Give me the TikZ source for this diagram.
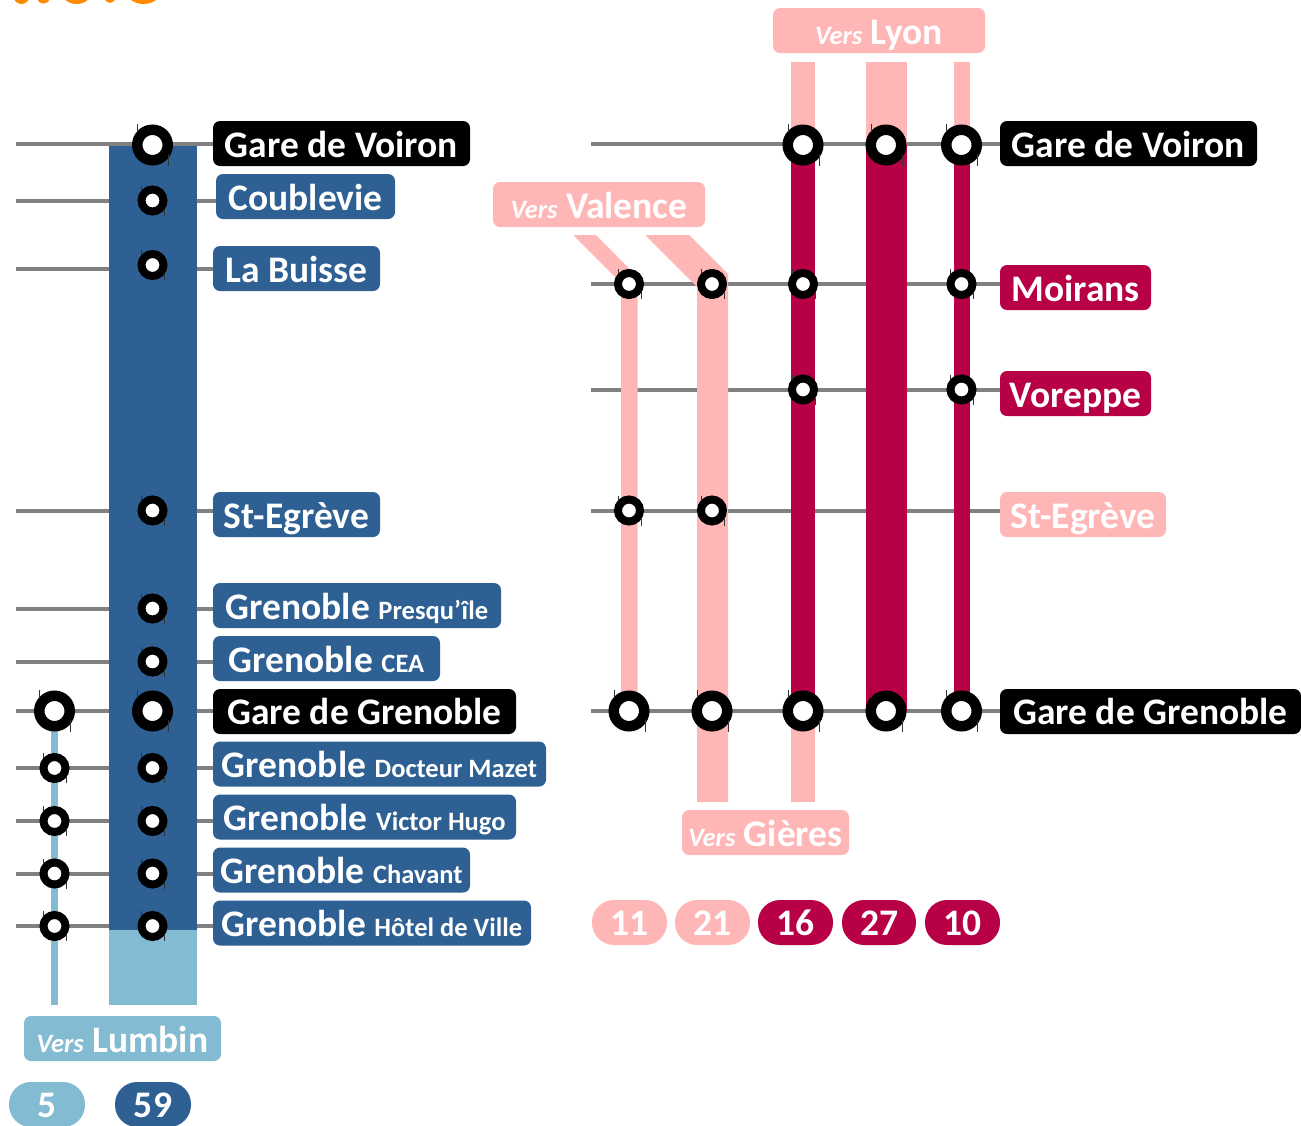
\documentclass[tikz,border=0pt]{standalone}
\usepackage{fontspec}
\setmainfont{Carlito}
\definecolor{cblue}{HTML}{2E6093}
\definecolor{clight}{HTML}{82BBD2}
\definecolor{cpink}{HTML}{FFB6B6}
\definecolor{cmag}{HTML}{B70045}
\definecolor{cgray}{HTML}{808080}
\definecolor{corange}{HTML}{FF8C00}
\newcommand{\lab}[8][36]{%
  \pgfmathsetmacro\labw{#5-#3}\pgfmathsetmacro\labh{#6-#4}\pgfmathsetmacro\labd{\labh-#1}%
  \node[labelbox,fill=#7,minimum width=\labw pt,text height=#1pt,text depth=\labd pt] (#2) at (#3,#4) {#8};}
\newcommand{\pill}[5]{%
  \pgfmathsetmacro\labw{#4-#3}%
  \node[labelbox,rounded corners=22pt,fill=#5,minimum width=\labw pt,text height=35pt,text depth=10pt] (p#1) at (#3,#2) {#1};}
\newcommand{\vers}{{\fontsize{26.5}{26.5}\selectfont\itshape Vers}}
\newcommand{\sm}[1]{{\fontsize{26.5}{26.5}\selectfont #1}}
\newcommand{\bigst}[3]{\node[bigstation] (#1) at (#2,#3) {};
  \draw[tickline] (#2-15,#3-21) -- (#2-15,#3-13) (#2+16,#3+9) -- (#2+16,#3+21);}
\newcommand{\smst}[3]{\node[smstation] (#1) at (#2,#3) {};
  \draw[tickline] (#2-11,#3-15) -- (#2-11,#3-10) (#2+12,#3+8) -- (#2+12,#3+15);}
\tikzset{
  labelbox/.style={anchor=north west,rectangle,rounded corners=7pt,inner xsep=0pt,inner ysep=0pt,outer sep=0pt,text=white,font=\fontsize{37.5}{37.5}\selectfont\bfseries},
  bigstation/.style={circle,draw=black,fill=white,line width=10.5pt,minimum size=30.5pt,inner sep=0pt},
  smstation/.style={circle,draw=black,fill=white,line width=8pt,minimum size=22pt,inner sep=0pt},
  tickline/.style={draw=black!80,line width=0.8pt},
  hline/.style={draw=cgray,line width=4pt},
}
\begin{document}
\begin{tikzpicture}[x=1pt,y=-1pt]
\useasboundingbox (0,0) rectangle (1301,1125);
% clipped remains of the title
\begin{scope}
\clip (0,0) rectangle (1301,10);
\fill[corange] (21.5,-4) ellipse (8 and 8);
\fill[corange] (43.5,-3) ellipse (6.5 and 6.5);
\fill[corange] (76.5,-10) ellipse (16 and 14);
\fill[corange] (110,-3) ellipse (5.5 and 6);
\fill[corange] (143.5,-10) ellipse (18 and 14);
\end{scope}
% labels defined first so that lines can end at them (left column)
\lab{lvoiron}{213}{121}{470}{166}{black}{Gare de Voiron}
\lab{lcoub}{216}{174}{395}{219}{cblue}{Coublevie}
\lab{lbuisse}{213}{246}{380}{291}{cblue}{La Buisse}
\lab{legreve}{213}{492}{380}{537}{cblue}{St-Egrève}
\lab{lpresq}{213}{583}{501}{628}{cblue}{Grenoble \sm{Presqu’île}}
\lab{lcea}{213}{636}{440}{681}{cblue}{Grenoble \sm{CEA}}
\lab[35.5]{lgren}{213}{689}{516}{734}{black}{Gare de Grenoble}
\lab{lmazet}{213}{741.5}{546}{786.5}{cblue}{Grenoble \sm{Docteur Mazet}}
\lab{lhugo}{213}{794.5}{516}{839.5}{cblue}{Grenoble \sm{Victor Hugo}}
\lab{lchav}{213}{847.5}{470}{892.5}{cblue}{Grenoble \sm{Chavant}}
\lab{lhotel}{213}{900.5}{531}{945.5}{cblue}{Grenoble \sm{Hôtel de Ville}}
\lab{rvoiron}{1000}{121}{1257}{166}{black}{Gare de Voiron}
\lab{rmoir}{1000}{265}{1151}{310}{cmag}{Moirans}
\lab{rvor}{1000}{371}{1151}{416}{cmag}{Voreppe}
\lab{regreve}{1000}{492}{1166}{537}{cpink}{St-Egrève}
\lab[35.5]{rgren}{1000}{689}{1301}{734}{black}{Gare de Grenoble}
\lab{vlumbin}{24}{1016}{221}{1061}{clight}{\vers{} Lumbin}
\lab{vvalence}{493}{182}{705}{227}{cpink}{\vers{} Valence}
\lab{vlyon}{773}{8}{985}{53}{cpink}{\vers{} Lyon}
\lab{vgieres}{682}{810}{849}{855}{cpink}{\vers{} Gières}
\pill{5}{1082}{9}{85}{clight}
\pill{59}{1082}{115}{191}{cblue}
\pill{11}{900}{592}{667}{cpink}
\pill{21}{900}{675}{750}{cpink}
\pill{16}{900}{758}{833}{cmag}
\pill{27}{900}{842}{916}{cmag}
\pill{10}{900}{925}{1000}{cmag}
% grey station lines
\foreach \n/\y/\t in {a/144/lvoiron,b/200.5/lcoub,c/268.5/lbuisse,d/510.5/legreve,e/608.5/lpresq,f/661.5/lcea,g/711/lgren,h/767.5/lmazet,i/820.5/lhugo,j/873.5/lchav,k/926/lhotel}{
  \coordinate (s\n) at (16,\y);
  \draw[hline] (s\n) -- (s\n -| \t.west);
}
\foreach \n/\y/\t in {a/144/rvoiron,b/284/rmoir,c/389.5/rvor,d/510.5/regreve,e/711/rgren}{
  \coordinate (r\n) at (591,\y);
  \draw[hline] (r\n) -- (r\n -| \t.west);
}
% line bars
\fill[cblue] (108.5,145.5) rectangle (197,930);
\fill[clight] (108.5,930) rectangle (197,1005);
\fill[clight] (50.5,711) rectangle (58,1005);
\fill[cpink] (573,235) -- (596,235) -- (637.5,277) -- (637.5,711) -- (621,711) -- (621,283) -- cycle;
\fill[cpink] (645,235) -- (689,235) -- (728,274) -- (728,802) -- (697,802) -- (697,287) -- cycle;
\fill[cpink] (791,62) rectangle (815,145);
\fill[cmag] (791,145) rectangle (815,711);
\fill[cpink] (791,711) rectangle (815,802);
\fill[cpink] (866,62) rectangle (907,145);
\fill[cmag] (866,145) rectangle (907,711);
\fill[cpink] (954,62) rectangle (969.5,145);
\fill[cmag] (954,145) rectangle (969.5,711);
% stations
\bigst{a1}{152.5}{145}
\smst{a2}{152.5}{200.5}
\smst{a3}{152.5}{265}
\smst{a4}{152.5}{510.5}
\smst{a5}{152.5}{608.5}
\smst{a6}{152.5}{661.5}
\bigst{a7}{152.5}{711}
\smst{a8}{152.5}{768}
\smst{a9}{152.5}{821}
\smst{a10}{152.5}{873.5}
\smst{a11}{152.5}{926}
\bigst{b7}{54.5}{711}
\smst{b8}{54.5}{768}
\smst{b9}{54.5}{821}
\smst{b10}{54.5}{873.5}
\smst{b11}{54.5}{926}
\bigst{c1}{803}{145}
\bigst{c2}{886}{145}
\bigst{c3}{961.5}{145}
\smst{d1}{629}{284}
\smst{d2}{712}{284}
\smst{d3}{803}{284}
\smst{d4}{961.5}{284}
\smst{e3}{803}{389.5}
\smst{e4}{961.5}{389.5}
\smst{f1}{629}{510.5}
\smst{f2}{712}{510.5}
\bigst{g1}{629}{711}
\bigst{g2}{712}{711}
\bigst{g3}{803}{711}
\bigst{g4}{886}{711}
\bigst{g5}{961.5}{711}
\end{tikzpicture}
\end{document}
